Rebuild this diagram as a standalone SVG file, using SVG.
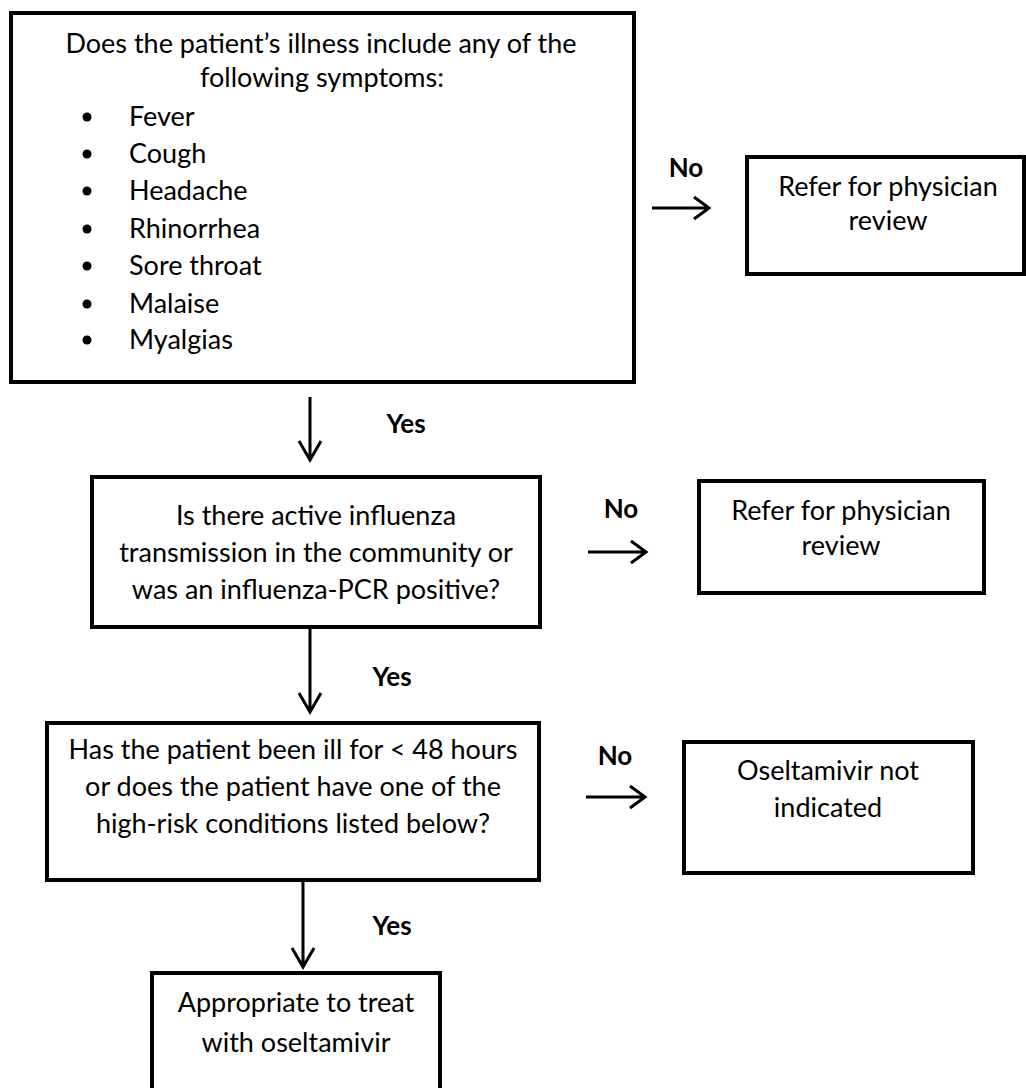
<svg xmlns="http://www.w3.org/2000/svg" width="1026" height="1088" viewBox="0 0 1026 1088">
<style>
.box{fill:#fff;stroke:#000;stroke-width:4}
.t{font-family:Lato,"Open Sans","Liberation Sans",sans-serif;font-size:27px;fill:#000}
.c{text-anchor:middle}
.b{font-family:Lato,"Open Sans","Liberation Sans",sans-serif;font-size:26px;font-weight:bold;fill:#000;text-anchor:middle}
.ln{fill:none;stroke:#000;stroke-width:3}
</style>
<rect width="1026" height="1088" fill="#fff"/>
<g id="n1">
<rect class="box" x="11" y="13" width="623" height="369"/>
<text class="t c" x="321" y="53">Does the patient’s illness include any of the</text>
<text class="t c" x="322" y="87">following symptoms:</text>
<g fill="#000">
<circle cx="87" cy="117" r="4.5"/><circle cx="87" cy="154" r="4.5"/><circle cx="87" cy="191" r="4.5"/><circle cx="87" cy="229" r="4.5"/><circle cx="87" cy="266" r="4.5"/><circle cx="87" cy="304" r="4.5"/><circle cx="87" cy="340" r="4.5"/>
</g>
<text class="t" x="129" y="126">Fever</text>
<text class="t" x="129" y="163">Cough</text>
<text class="t" x="129" y="200">Headache</text>
<text class="t" x="129" y="238">Rhinorrhea</text>
<text class="t" x="129" y="275">Sore throat</text>
<text class="t" x="129" y="313">Malaise</text>
<text class="t" x="129" y="349">Myalgias</text>
</g>
<g id="r1">
<rect class="box" x="747" y="157" width="277" height="117"/>
<text class="t c" x="888" y="196">Refer for physician</text>
<text class="t c" x="888" y="230">review</text>
</g>
<g id="n2">
<rect class="box" x="92" y="477" width="448" height="150"/>
<text class="t c" x="316" y="525">Is there active influenza</text>
<text class="t c" x="316" y="562">transmission in the community or</text>
<text class="t c" x="316" y="599">was an influenza-PCR positive?</text>
</g>
<g id="r2">
<rect class="box" x="699" y="481" width="285" height="112"/>
<text class="t c" x="841" y="520">Refer for physician</text>
<text class="t c" x="841" y="555">review</text>
</g>
<g id="n3">
<rect class="box" x="47" y="723" width="492" height="157"/>
<text class="t c" x="293" y="759">Has the patient been ill for &lt; 48 hours</text>
<text class="t c" x="293" y="796">or does the patient have one of the</text>
<text class="t c" x="293" y="833">high-risk conditions listed below?</text>
</g>
<g id="r3">
<rect class="box" x="684" y="742" width="289" height="131"/>
<text class="t c" x="828" y="780">Oseltamivir not</text>
<text class="t c" x="828" y="817">indicated</text>
</g>
<g id="n4">
<rect class="box" x="152" y="973" width="288" height="130"/>
<text class="t c" x="296" y="1012">Appropriate to treat</text>
<text class="t c" x="296" y="1052">with oseltamivir</text>
</g>
<g id="connectors">
<path class="ln" d="M652 208H709M694 197L709 208L694 219"/>
<text class="b" x="686" y="177">No</text>
<path class="ln" d="M310 397V460M299 441L310 460L321 441"/>
<text class="b" x="406" y="433">Yes</text>
<path class="ln" d="M588 552H646M631 541L646 552L631 563"/>
<text class="b" x="621" y="518">No</text>
<path class="ln" d="M310 627V712M299 693L310 712L321 693"/>
<text class="b" x="392" y="686">Yes</text>
<path class="ln" d="M586 797H645M630 786L645 797L630 808"/>
<text class="b" x="615" y="765">No</text>
<path class="ln" d="M303 880V967M292 948L303 967L314 948"/>
<text class="b" x="392" y="935">Yes</text>
</g>
</svg>
